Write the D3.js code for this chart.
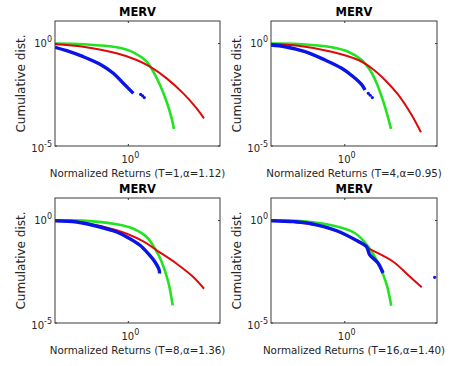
<!DOCTYPE html>
<html>
<head>
<meta charset="utf-8">
<script src="https://cdn.jsdelivr.net/npm/d3@7"></script>
<style>
  body { margin: 0; background: #fff; }
  text { font-family: "DejaVu Sans", sans-serif; fill: #262626; }
</style>
</head>
<body>
<svg width="456" height="366"></svg>
<script>
let svg = d3.select("svg");

// panel labels
const titles = ["MERV", "MERV", "MERV", "MERV"];
const xLabels = [
  "Normalized Returns (T=1,α=1.12)",
  "Normalized Returns (T=4,α=0.95)",
  "Normalized Returns (T=8,α=1.36)",
  "Normalized Returns (T=16,α=1.40)"
];
const yLabel = "Cumulative dist.";

// [normalized return, cumulative dist.]
const blue1 = [[0.01, 0.656], [0.0208, 0.447], [0.059, 0.228], [0.169, 0.097], [0.389, 0.0353], [0.729, 0.0115], [1.37, 0.0037]];
const blueDots1 = [[2.17, 0.0033], [2.45, 0.0028], [2.72, 0.0023]];
const red1 = [[0.01, 0.93], [0.059, 0.70], [0.48, 0.334], [1.69, 0.157], [3.9, 0.074], [11.1, 0.020], [31.5, 0.0037], [73, 0.00069], [116, 0.000224]];
const green1 = [[0.01, 1.0], [0.059, 0.92], [0.48, 0.656], [1.37, 0.373], [3.17, 0.130], [4.8, 0.0423], [7.31, 0.0095], [11.1, 0.00145], [15.2, 0.000224], [17.6, 0.0000676]];

const blue2 = [[0.01, 0.85], [0.024, 0.70], [0.0836, 0.40], [0.291, 0.157], [0.826, 0.062], [1.70, 0.0241], [2.88, 0.0099], [3.53, 0.0054]];
const blueDots2 = [[4.34, 0.0037], [4.9, 0.003], [5.57, 0.0023]];
const red2 = [[0.01, 0.95], [0.055, 0.785], [0.44, 0.40], [2.33, 0.157], [5.37, 0.062], [12.3, 0.0166], [28.3, 0.0031], [65, 0.000326], [116, 0.0000465]];
const green2 = [[0.01, 1.0], [0.055, 0.95], [0.44, 0.656], [1.24, 0.40], [2.88, 0.157], [4.83, 0.0512], [7.33, 0.0115], [11.1, 0.00145], [15.1, 0.000224], [17.9, 0.0000676]];

const blue3 = [[0.01, 0.98], [0.039, 0.85], [0.169, 0.484], [0.48, 0.276], [1.11, 0.130], [2.08, 0.062], [3.5, 0.0241], [5.33, 0.0095], [6.98, 0.0037], [7.05, 0.0026]];
const blueDots3 = [];
const red3 = [[0.01, 0.98], [0.059, 0.785], [0.48, 0.334], [2.56, 0.097], [5.93, 0.0353], [20.8, 0.00783], [59, 0.00176], [116, 0.00047]];
const green3 = [[0.01, 1.0], [0.059, 0.99], [0.48, 0.656], [1.37, 0.40], [3.17, 0.157], [5.33, 0.0423], [8.13, 0.0095], [12.3, 0.001], [16.2, 0.0000725]];

const blue4 = [[0.01, 0.98], [0.044, 0.88], [0.124, 0.70], [0.655, 0.30], [2.28, 0.097], [3.83, 0.055], [4.73, 0.0215], [7.94, 0.0085], [10.9, 0.00275]];
const blueDots4 = [[273, 0.0017]];
const red4 = [[0.01, 0.98], [0.044, 0.82], [0.367, 0.432], [1.86, 0.116], [4.26, 0.0457], [20.6, 0.0098], [58.6, 0.0018], [122, 0.00055]];
const green4 = [[0.01, 1.0], [0.05, 0.97], [0.367, 0.627], [1.86, 0.247], [4.26, 0.0553], [7.94, 0.0085], [13.3, 0.00089], [18.2, 0.0000697]];

const blues = [blue1, blue2, blue3, blue4];
const blueDots = [blueDots1, blueDots2, blueDots3, blueDots4];
const reds = [red1, red2, red3, red4];
const greens = [green1, green2, green3, green4];

const xDomain = [1e-2, Math.pow(10, 2.5)];
const yDomain = [1e-5, Math.pow(10, 1.1)];

// box positions
const boxes = [
  { l: 55, r: 220, t: 21, b: 146 },
  { l: 271, r: 437, t: 21, b: 146 },
  { l: 55, r: 220, t: 198, b: 323 },
  { l: 271, r: 437, t: 198, b: 323 }
];

let powLabel = (sel, exp) => {
  sel.append("tspan").text("10");
  sel.append("tspan").attr("dy", -5).attr("font-size", 8).text(exp);
};

boxes.forEach((bx, i) => {
  let x = d3.scaleLog().domain(xDomain).range([bx.l, bx.r]);
  let y = d3.scaleLog().domain(yDomain).range([bx.b, bx.t]);
  let g = svg.append("g");

  g.append("clipPath").attr("id", "clip" + i)
    .append("rect").attr("x", bx.l).attr("y", bx.t)
    .attr("width", bx.r - bx.l).attr("height", bx.b - bx.t);

  let line = d3.line().x(d => x(d[0])).y(d => y(d[1])).curve(d3.curveCatmullRom.alpha(0.5));
  let plot = g.append("g").attr("clip-path", `url(#clip${i})`);

  plot.append("path").datum(greens[i])
    .attr("d", line).attr("fill", "none")
    .attr("stroke", "#22e222").attr("stroke-width", 2.6);
  plot.append("path").datum(reds[i])
    .attr("d", line).attr("fill", "none")
    .attr("stroke", "#dc0a0a").attr("stroke-width", 2);
  plot.append("path").datum(blues[i])
    .attr("d", line).attr("fill", "none")
    .attr("stroke", "#0a14e6").attr("stroke-width", 3.4);
  plot.selectAll("circle").data(blueDots[i]).enter().append("circle")
    .attr("cx", d => x(d[0])).attr("cy", d => y(d[1]))
    .attr("r", 1.6).attr("fill", "#0a14e6");

  // box
  g.append("rect").attr("x", bx.l).attr("y", bx.t)
    .attr("width", bx.r - bx.l).attr("height", bx.b - bx.t)
    .attr("fill", "none").attr("stroke", "#3a3a3a").attr("stroke-width", 1);

  // ticks (inside, both sides)
  let tx = x(1);
  g.append("line").attr("x1", tx).attr("x2", tx).attr("y1", bx.b).attr("y2", bx.b - 2).attr("stroke", "#3a3a3a");
  g.append("line").attr("x1", tx).attr("x2", tx).attr("y1", bx.t).attr("y2", bx.t + 2).attr("stroke", "#3a3a3a");
  [1, 1e-5].forEach(v => {
    g.append("line").attr("x1", bx.l).attr("x2", bx.l + 2).attr("y1", y(v)).attr("y2", y(v)).attr("stroke", "#3a3a3a");
    g.append("line").attr("x1", bx.r).attr("x2", bx.r - 2).attr("y1", y(v)).attr("y2", y(v)).attr("stroke", "#3a3a3a");
  });

  // tick labels
  g.append("text").attr("x", bx.l - 3).attr("y", y(1) + 3.5)
    .attr("text-anchor", "end").attr("font-size", 10)
    .call(powLabel, "0");
  g.append("text").attr("x", bx.l - 3).attr("y", y(1e-5) + 6)
    .attr("text-anchor", "end").attr("font-size", 10)
    .call(powLabel, "-5");
  g.append("text").attr("x", tx + 2).attr("y", bx.b + 17)
    .attr("text-anchor", "middle").attr("font-size", 10)
    .call(powLabel, "0");

  // labels
  g.append("text").attr("x", (bx.l + bx.r) / 2).attr("y", bx.t - 5)
    .attr("text-anchor", "middle").attr("font-size", 11.5)
    .attr("font-family", "'Liberation Sans', sans-serif")
    .attr("font-weight", "bold").style("fill", "#000")
    .text(titles[i]);
  g.append("text").attr("x", (bx.l + bx.r) / 2).attr("y", bx.b + 31)
    .attr("text-anchor", "middle").attr("font-size", 10.3)
    .text(xLabels[i]);
  g.append("text")
    .attr("transform", `translate(${bx.l - 30},${(bx.t + bx.b) / 2}) rotate(-90)`)
    .attr("text-anchor", "middle").attr("font-size", 12)
    .text(yLabel);
});
</script>
</body>
</html>
